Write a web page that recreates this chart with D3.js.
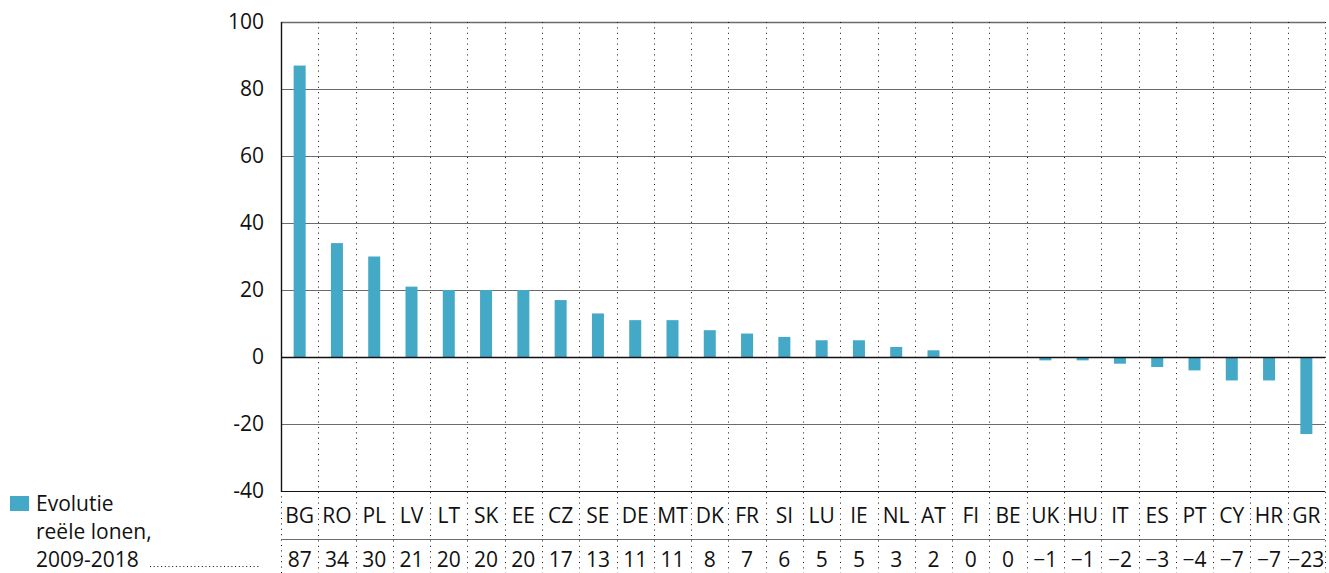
<!DOCTYPE html>
<html>
<head>
<meta charset="utf-8">
<script src="https://cdn.jsdelivr.net/npm/d3@7"></script>
<style>
  body { margin: 0; background: #fff; }
  text { font-family: "Open Sans", "Noto Sans", sans-serif; fill: #111; }
</style>
</head>
<body>
<div id="chart"></div>
<script>
// Countries, real wage evolution 2009-2018 (%)
var countries = ["BG","RO","PL","LV","LT","SK","EE","CZ","SE","DE","MT","DK","FR","SI",
                 "LU","IE","NL","AT","FI","BE","UK","HU","IT","ES","PT","CY","HR","GR"];
var wages = [87,34,30,21,20,20,20,17,13,11,11,8,7,6,5,5,3,2,0,0,-1,-1,-2,-3,-4,-7,-7,-23];
var yTicks = [100,80,60,40,20,0,-20,-40];
var legendLines = ["Evolutie", "reële lonen,", "2009-2018"];

var width = 1329, height = 573;
var plotLeft = 281, plotRight = 1325, plotTop = 22, plotBottom = 491;
var barColor = "#44a9c7";
var fontSize = 21;

var svg = d3.select("#chart").append("svg")
    .attr("width", width)
    .attr("height", height);

var x = d3.scaleBand().domain(countries).range([plotLeft, plotRight]).padding(0);
var y = d3.scaleLinear().domain([-40, 100]).range([plotBottom, plotTop]);

// horizontal grid lines
svg.append("g")
  .selectAll("line")
  .data(yTicks)
  .enter().append("line")
    .attr("x1", plotLeft).attr("x2", plotRight)
    .attr("y1", d => Math.round(y(d)) + 0.5)
    .attr("y2", d => Math.round(y(d)) + 0.5)
    .attr("stroke", d => (d === 0 || d === -40) ? "#111" : "#6b6b6b")
    .attr("stroke-width", d => d === 100 ? 1.6 : 1.2);

// dotted column separators (plot + table)
var seps = countries.map((c, i) => i + 1);
svg.append("g")
  .selectAll("line")
  .data(seps)
  .enter().append("line")
    .attr("x1", i => Math.round(plotLeft + i * x.bandwidth()) + 0.5)
    .attr("x2", i => Math.round(plotLeft + i * x.bandwidth()) + 0.5)
    .attr("y1", plotTop)
    .attr("y2", height)
    .attr("stroke", "#111")
    .attr("stroke-width", 1)
    .attr("stroke-dasharray", "1,4.4");

// table left border
svg.append("line")
    .attr("x1", plotLeft + 0.5).attr("x2", plotLeft + 0.5)
    .attr("y1", plotBottom).attr("y2", height)
    .attr("stroke", "#111")
    .attr("stroke-dasharray", "1,4.4");

// bars
svg.append("g")
  .selectAll("rect")
  .data(wages)
  .enter().append("rect")
    .attr("x", (d, i) => x(countries[i]) + x.bandwidth() / 2 - 6)
    .attr("width", 12)
    .attr("y", d => y(Math.max(0, d)))
    .attr("height", d => Math.abs(y(d) - y(0)))
    .attr("fill", barColor);

// zero line on top of bars
svg.append("line")
    .attr("x1", plotLeft).attr("x2", plotRight)
    .attr("y1", Math.round(y(0)) + 0.5).attr("y2", Math.round(y(0)) + 0.5)
    .attr("stroke", "#111").attr("stroke-width", 1.4);

// y axis line
svg.append("line")
    .attr("x1", plotLeft + 0.5).attr("x2", plotLeft + 0.5)
    .attr("y1", plotTop).attr("y2", plotBottom + 1)
    .attr("stroke", "#111").attr("stroke-width", 1.4);

// y tick labels
svg.append("g")
  .selectAll("text")
  .data(yTicks)
  .enter().append("text")
    .attr("x", 264)
    .attr("y", d => y(d))
    .attr("dy", "0.35em")
    .attr("text-anchor", "end")
    .attr("font-size", fontSize)
    .text(d => d);

// table: separator line between labels and values
svg.append("line")
    .attr("x1", plotLeft).attr("x2", plotRight)
    .attr("y1", 539.5).attr("y2", 539.5)
    .attr("stroke", "#6b6b6b").attr("stroke-width", 1.2);

// country labels
svg.append("g")
  .selectAll("text")
  .data(countries)
  .enter().append("text")
    .attr("x", d => x(d) + x.bandwidth() / 2)
    .attr("y", 522.5)
    .attr("text-anchor", "middle")
    .attr("font-size", fontSize)
    .text(d => d);

// values
svg.append("g")
  .selectAll("text")
  .data(wages)
  .enter().append("text")
    .attr("x", (d, i) => x(countries[i]) + x.bandwidth() / 2)
    .attr("y", 566.5)
    .attr("text-anchor", "middle")
    .attr("font-size", fontSize)
    .text(d => d < 0 ? "\u2212" + Math.abs(d) : d);

// legend
svg.append("rect")
    .attr("x", 10).attr("y", 496)
    .attr("width", 19).attr("height", 15)
    .attr("fill", barColor);

svg.append("g")
  .selectAll("text")
  .data(legendLines)
  .enter().append("text")
    .attr("x", 36)
    .attr("y", (d, i) => 510.5 + i * 28)
    .attr("font-size", fontSize)
    .text(d => d);

// leader dots
svg.append("line")
    .attr("x1", 150).attr("x2", 260)
    .attr("y1", 566.5).attr("y2", 566.5)
    .attr("stroke", "#111")
    .attr("stroke-dasharray", "1,2.7");
</script>
</body>
</html>
